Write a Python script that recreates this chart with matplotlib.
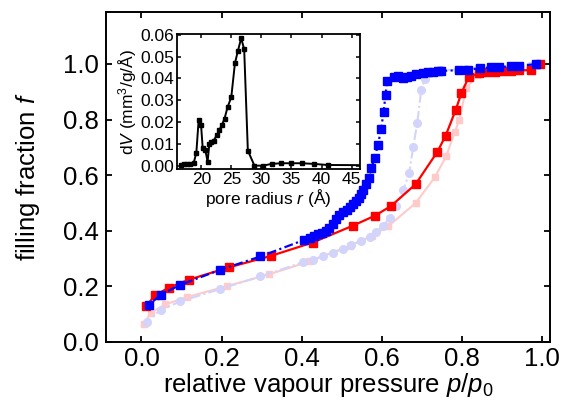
import matplotlib
matplotlib.use('Agg')
import matplotlib.pyplot as plt

plt.rcParams['font.family'] = ['Liberation Sans', 'DejaVu Sans']
plt.rcParams['mathtext.fontset'] = 'custom'
plt.rcParams['mathtext.rm'] = 'Liberation Sans'
plt.rcParams['mathtext.it'] = 'Liberation Sans:italic'

# sample 1 adsorption (red) and desorption (blue)
ads1_p = [0.011, 0.034, 0.0675, 0.1175, 0.219, 0.323, 0.427, 0.528, 0.583, 0.623,
          0.684, 0.7385, 0.759, 0.784, 0.798, 0.817, 0.842, 0.863, 0.883, 0.902,
          0.922, 0.943, 0.971, 0.994]
ads1_f = [0.127, 0.167, 0.194, 0.223, 0.268, 0.309, 0.357, 0.418, 0.454, 0.489,
          0.567, 0.684, 0.742, 0.834, 0.894, 0.954, 0.966, 0.970, 0.972, 0.975,
          0.976, 0.977, 0.978, 1.0]

des1_p = [0.984, 0.943, 0.923, 0.893, 0.873, 0.844, 0.815, 0.793, 0.7485, 0.74,
          0.7276, 0.715, 0.7026, 0.686, 0.673, 0.6626, 0.6526, 0.64, 0.629, 0.6126,
          0.609, 0.604, 0.598, 0.59, 0.582, 0.5735, 0.567, 0.561, 0.554, 0.5485,
          0.5425, 0.536, 0.5275, 0.521, 0.5125, 0.504, 0.494, 0.486, 0.478, 0.469,
          0.461, 0.451, 0.44, 0.43, 0.42, 0.405, 0.297, 0.197, 0.097, 0.048, 0.019]
des1_f = [0.999, 0.994, 0.992, 0.989, 0.988, 0.984, 0.980, 0.978, 0.975, 0.975,
          0.972, 0.970, 0.966, 0.963, 0.958, 0.953, 0.951, 0.957, 0.954, 0.939,
          0.888, 0.826, 0.766, 0.708, 0.663, 0.624, 0.591, 0.569, 0.547, 0.533,
          0.519, 0.505, 0.497, 0.485, 0.475, 0.467, 0.458, 0.443, 0.425, 0.41,
          0.40, 0.393, 0.386, 0.380, 0.374, 0.366, 0.307, 0.259, 0.205, 0.169, 0.133]

# sample 2 (pale)
ads2_p = [0.0067, 0.023, 0.059, 0.1125, 0.213, 0.3175, 0.419, 0.521, 0.575, 0.615,
          0.684, 0.732, 0.76, 0.782, 0.793, 0.81, 0.838, 0.86, 0.88, 0.90,
          0.92, 0.943, 0.97, 0.994]
ads2_f = [0.064, 0.104, 0.134, 0.160, 0.200, 0.242, 0.289, 0.346, 0.381, 0.415,
          0.499, 0.592, 0.667, 0.755, 0.798, 0.912, 0.962, 0.967, 0.970, 0.972,
          0.974, 0.975, 0.977, 1.0]

des2_p = [0.99, 0.97, 0.94, 0.92, 0.89, 0.87, 0.84, 0.81, 0.79, 0.7485,
          0.732, 0.715, 0.707, 0.698, 0.688, 0.678, 0.668, 0.653, 0.636, 0.619,
          0.603, 0.586, 0.569, 0.548, 0.523, 0.5026, 0.477, 0.4526, 0.427, 0.4026,
          0.297, 0.197, 0.097, 0.048, 0.013]
des2_f = [0.998, 0.994, 0.992, 0.990, 0.988, 0.986, 0.984, 0.981, 0.980, 0.978,
          0.972, 0.966, 0.946, 0.906, 0.786, 0.702, 0.606, 0.546, 0.49, 0.445,
          0.418, 0.395, 0.378, 0.363, 0.348, 0.333, 0.320, 0.309, 0.294, 0.286,
          0.235, 0.190, 0.145, 0.115, 0.070]

# inset: pore size distribution
pore_r = [16.63, 17.06, 17.63, 18.18, 18.72, 19.17, 19.55, 19.95, 20.22, 20.66,
          21.04, 21.33, 21.66, 22.04, 22.6, 22.99, 23.43, 23.86, 24.36, 24.98,
          25.59, 26.09, 26.63, 27.13, 27.74, 28.84, 30.23, 31.72, 33.27, 34.93,
          36.7, 38.74, 41.01, 48.5]
pore_dv = [0.0003, 0.0006, 0.0008, 0.0009, 0.0011, 0.006, 0.021, 0.0187, 0.0083, 0.0072,
           0.0018, 0.0098, 0.011, 0.0115, 0.0141, 0.0164, 0.0187, 0.0216, 0.0268, 0.0314,
           0.047, 0.0527, 0.0585, 0.0534, 0.0069, 0.0, 0.0, 0.0008, 0.0011, 0.0011,
           0.0011, 0.0008, 0.0003, 0.0002]

RED = '#ff0000'
BLUE = '#0000ff'
PALE_RED = '#ffcaca'
PALE_BLUE = '#d2d4fb'

fig = plt.figure(figsize=(5.62, 4.08), dpi=100)
ax = fig.add_axes([0.1886, 0.1625, 0.79, 0.808])

ax.plot(ads2_p, ads2_f, '-', color=PALE_RED, lw=1.5, marker='s', ms=5, mec=PALE_RED)
ax.plot(des2_p, des2_f, color=PALE_BLUE, lw=1.5, ls=(0, (5, 1.5, 1, 1.5)),
        marker='o', ms=5.5, mec=PALE_BLUE)
ax.plot(ads1_p, ads1_f, '-', color=RED, lw=1.6, marker='s', ms=5.5, mec=RED)
ax.plot(des1_p, des1_f, color=BLUE, lw=1.6, ls=(0, (4, 1.5, 1, 1.5)),
        marker='s', ms=5.5, mec=BLUE)

ax.set_xlim(-0.0885, 1.0193)
ax.set_ylim(0, 1.187)
ax.set_xticks([0.0, 0.2, 0.4, 0.6, 0.8, 1.0])
ax.set_yticks([0.0, 0.2, 0.4, 0.6, 0.8, 1.0])
ax.tick_params(direction='in', length=4.5, width=1.3, top=True, right=True,
               labelsize=18.5)
ax.tick_params(axis='x', pad=4)
ax.tick_params(axis='y', pad=5)
for s in ax.spines.values():
    s.set_linewidth(1.4)
ax.set_xlabel(r'relative vapour pressure $p$/$p_\mathrm{0}$', fontsize=18.5, labelpad=0)
ax.set_ylabel(r'filling fraction $f$', fontsize=18.5, labelpad=15)

ins = fig.add_axes([0.3155, 0.586, 0.325, 0.330])
ins.plot(pore_r, pore_dv, '-', color='black', lw=1.4, marker='s', ms=2.3)
ins.set_xlim(16.0, 46.4)
ins.set_ylim(-0.0015, 0.0603)
ins.set_xticks([20, 25, 30, 35, 40, 45])
ins.set_yticks([0.0, 0.01, 0.02, 0.03, 0.04, 0.05, 0.06])
ins.set_yticklabels(['0.00', '0.01', '0.02', '0.03', '0.04', '0.05', '0.06'])
ins.tick_params(direction='in', length=3, width=1.1, top=True, right=True,
                labelsize=12.5, pad=2)
for s in ins.spines.values():
    s.set_linewidth(1.3)
ins.set_xlabel(r'pore radius $r$ (Å)', fontsize=12.5, labelpad=0)
ins.set_ylabel(r'd$V$ (mm$^3$/g/Å)', fontsize=12.5, labelpad=1)

fig.savefig('out.png', dpi=100)
